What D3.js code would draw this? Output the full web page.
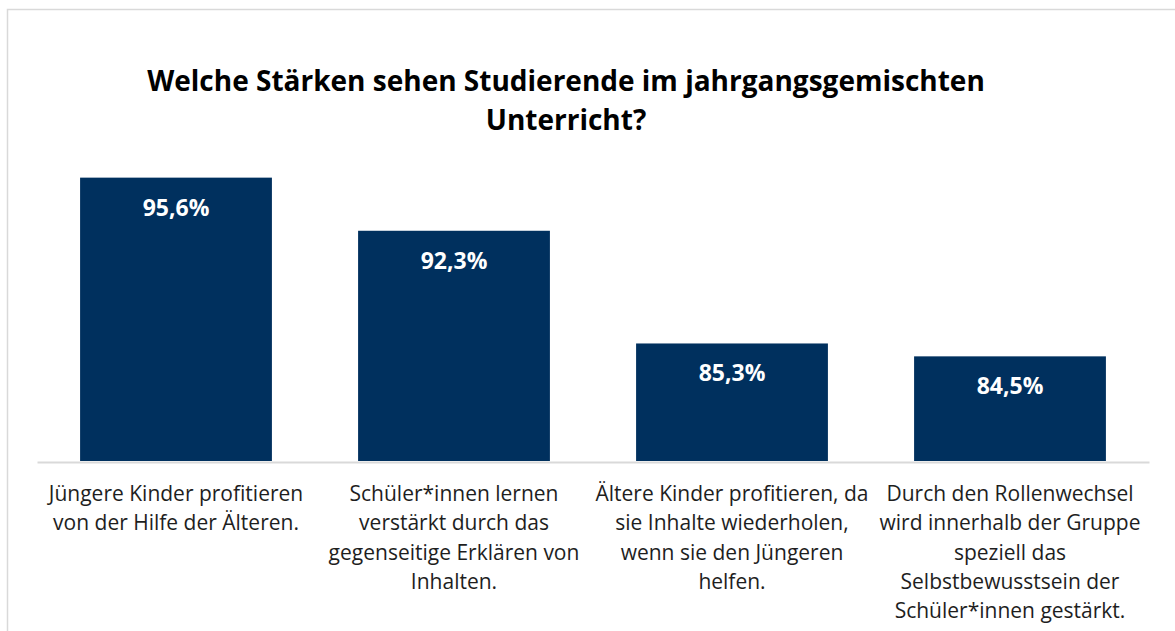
<!DOCTYPE html>
<html>
<head>
<meta charset="utf-8">
<script src="https://cdn.jsdelivr.net/npm/d3@7"></script>
<style>
  body { margin: 0; background: #fff; }
  text { font-family: "Open Sans", sans-serif; }
</style>
</head>
<body>
<script>
// Data
const categories = [
  ["Jüngere Kinder profitieren", "von der Hilfe der Älteren."],
  ["Schüler*innen lernen", "verstärkt durch das", "gegenseitige Erklären von", "Inhalten."],
  ["Ältere Kinder profitieren, da", "sie Inhalte wiederholen,", "wenn sie den Jüngeren", "helfen."],
  ["Durch den Rollenwechsel", "wird innerhalb der Gruppe", "speziell das", "Selbstbewusstsein der", "Schüler*innen gestärkt."]
];
const values = [95.6, 92.3, 85.3, 84.5];
const titleLines = ["Welche Stärken sehen Studierende im jahrgangsgemischten", "Unterricht?"];

const width = 1175;
const height = 631;
const plot = { left: 37, right: 1149, top: 139, bottom: 461 };

const svg = d3.select("body")
  .append("svg")
  .attr("width", width)
  .attr("height", height);

// Chart frame (right and bottom edges fall outside the window)
svg.append("rect")
  .attr("x", 7.5)
  .attr("y", 9.5)
  .attr("width", 1200)
  .attr("height", 700)
  .attr("fill", "none")
  .attr("stroke", "#d9d9d9")
  .attr("stroke-width", 1.5);

// Title
svg.append("text")
  .attr("x", 566)
  .attr("y", 91)
  .attr("text-anchor", "middle")
  .attr("font-size", 28)
  .attr("font-weight", "bold")
  .attr("fill", "#000")
  .selectAll("tspan")
  .data(titleLines)
  .enter()
  .append("tspan")
  .attr("x", 566)
  .attr("dy", (d, i) => i === 0 ? 0 : 39)
  .text(d => d);

// Scales
const xScale = d3.scaleBand()
  .domain(d3.range(categories.length))
  .range([plot.left, plot.right])
  .paddingInner(0.31)
  .paddingOuter(0.155);

const yScale = d3.scaleLinear()
  .domain([78, 98])
  .range([plot.bottom, plot.top]);

// Bars
svg.selectAll("rect.bar")
  .data(values)
  .enter()
  .append("rect")
  .attr("class", "bar")
  .attr("x", (d, i) => xScale(i))
  .attr("y", d => yScale(d))
  .attr("width", xScale.bandwidth())
  .attr("height", d => plot.bottom - yScale(d))
  .attr("fill", "#00305e");

// Value labels
svg.selectAll("text.value")
  .data(values)
  .enter()
  .append("text")
  .attr("class", "value")
  .attr("x", (d, i) => xScale(i) + xScale.bandwidth() / 2)
  .attr("y", d => yScale(d) + 38)
  .attr("text-anchor", "middle")
  .attr("font-size", 23)
  .attr("font-weight", "bold")
  .attr("fill", "#fff")
  .text(d => d.toFixed(1).replace(".", ",") + "%");

// Category axis
const xAxis = d3.axisBottom(xScale).tickSize(0).tickFormat("");
const axisG = svg.append("g")
  .attr("transform", `translate(0,${plot.bottom + 1})`)
  .call(xAxis);
axisG.select(".domain")
  .attr("stroke", "#d9d9d9")
  .attr("stroke-width", 2);

// Category labels
svg.selectAll("text.cat")
  .data(categories)
  .enter()
  .append("text")
  .attr("class", "cat")
  .attr("text-anchor", "middle")
  .attr("font-size", 21)
  .attr("fill", "#1e1e1e")
  .each(function (lines, i) {
    const cx = xScale(i) + xScale.bandwidth() / 2;
    d3.select(this)
      .selectAll("tspan")
      .data(lines)
      .enter()
      .append("tspan")
      .attr("x", cx)
      .attr("y", (d, j) => 501 + j * 29.3)
      .text(d => d);
  });
</script>
</body>
</html>
